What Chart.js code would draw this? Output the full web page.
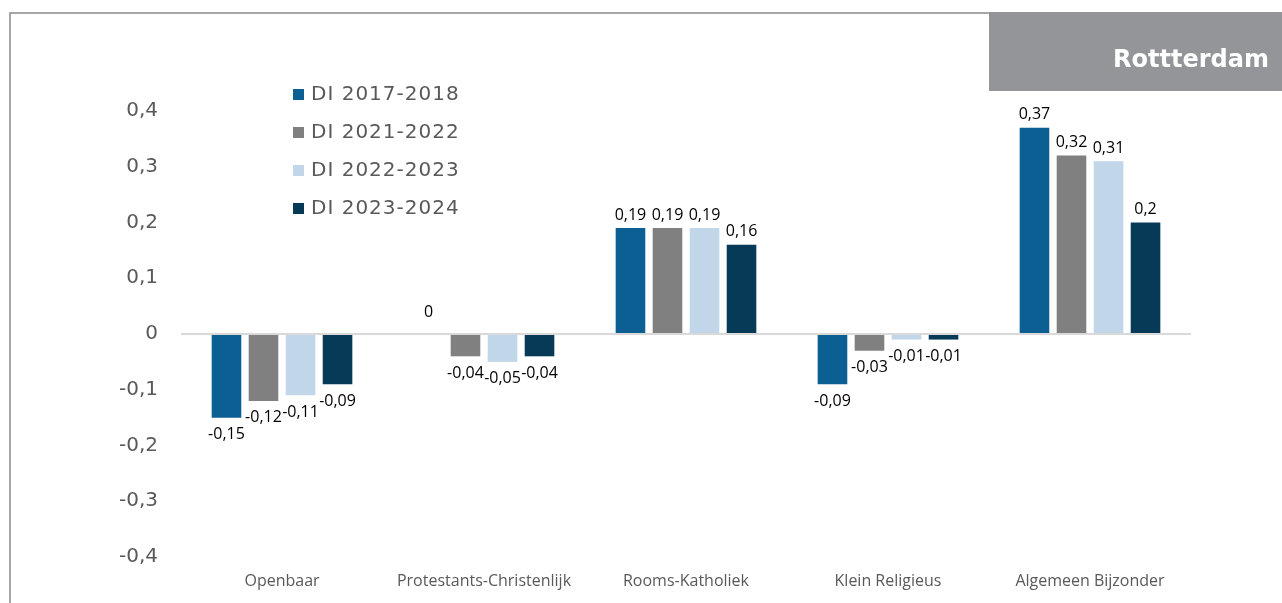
<!DOCTYPE html>
<html>
<head>
<meta charset="utf-8">
<script src="https://cdn.jsdelivr.net/npm/chart.js@4.4.0/dist/chart.umd.min.js"></script>
<style>
  html, body { margin: 0; padding: 0; background: #fff; }
  #wrap { position: relative; width: 1282px; height: 603px; }
</style>
</head>
<body>
<div id="wrap"><canvas id="chart" width="1282" height="603"></canvas></div>
<script>
// declare variables
const categories = ["Openbaar", "Protestants-Christenlijk", "Rooms-Katholiek", "Klein Religieus", "Algemeen Bijzonder"];
const seriesLabels = ["DI 2017-2018", "DI 2021-2022", "DI 2022-2023", "DI 2023-2024"];
const di2017 = [-0.15, 0, 0.19, -0.09, 0.37];
const di2021 = [-0.12, -0.04, 0.19, -0.03, 0.32];
const di2022 = [-0.11, -0.05, 0.19, -0.01, 0.31];
const di2023 = [-0.09, -0.04, 0.16, -0.01, 0.2];
const yTicks = [-0.4, -0.3, -0.2, -0.1, 0, 0.1, 0.2, 0.3, 0.4];
const colors = ["#0B5F93", "#808080", "#C2D6EA", "#063A57"];
const cityName = "Rottterdam";

function fmt(v) {
    if (v === 0) return "0";
    return String(Math.round(v * 100) / 100).replace(".", ",");
}

// frame + grey city box
const framePlugin = {
    id: 'frame',
    beforeDraw(chart) {
        const ctx = chart.ctx;
        ctx.save();
        ctx.strokeStyle = "#8a8a8a";
        ctx.lineWidth = 1.5;
        ctx.beginPath();
        ctx.moveTo(10, 603);
        ctx.lineTo(10, 13);
        ctx.lineTo(990, 13);
        ctx.stroke();
        ctx.fillStyle = "#939598";
        ctx.fillRect(989, 12, 293, 79);
        ctx.fillStyle = "#ffffff";
        ctx.font = "bold 24px 'DejaVu Sans'";
        ctx.textAlign = "right";
        ctx.textBaseline = "alphabetic";
        ctx.fillText(cityName, 1269, 67);
        ctx.restore();
    }
};

// legend drawn inside the plot
const legendPlugin = {
    id: 'innerLegend',
    afterDraw(chart) {
        const ctx = chart.ctx;
        ctx.save();
        ctx.font = "20px 'DejaVu Sans'";
        ctx.letterSpacing = "1px";
        ctx.textBaseline = "middle";
        ctx.textAlign = "left";
        chart.data.datasets.forEach((ds, i) => {
            const y = 94 + i * 38;
            ctx.fillStyle = ds.backgroundColor;
            ctx.fillRect(293, y - 5, 11, 11);
            ctx.fillStyle = "#595959";
            ctx.fillText(ds.label, 311, y + 1);
        });
        ctx.restore();
    }
};

// value labels on the bars
const labelPlugin = {
    id: 'barLabels',
    afterDatasetsDraw(chart) {
        const ctx = chart.ctx;
        ctx.save();
        ctx.font = "16px 'Open Sans'";
        ctx.fillStyle = "#000";
        ctx.textAlign = "center";
        ctx.textBaseline = "middle";
        chart.data.datasets.forEach((ds, i) => {
            const meta = chart.getDatasetMeta(i);
            meta.data.forEach((bar, j) => {
                const v = ds.data[j];
                let y;
                if (v > 0) y = bar.y - 13;
                else if (v === 0) y = bar.y - 22;
                else y = bar.y + 17;
                ctx.fillText(fmt(v), bar.x, y);
            });
        });
        ctx.restore();
    }
};

const allSeries = [di2017, di2021, di2022, di2023];

new Chart(document.getElementById("chart"), {
    type: 'bar',
    data: {
        labels: categories,
        datasets: allSeries.map((d, i) => ({
            label: seriesLabels[i],
            data: d,
            backgroundColor: colors[i],
            categoryPercentage: 0.733,
            barPercentage: 0.8
        }))
    },
    options: {
        responsive: false,
        animation: false,
        layout: { padding: { top: 111, right: 91, bottom: 0, left: 0 } },
        plugins: {
            legend: { display: false },
            tooltip: { enabled: false },
            title: { display: false }
        },
        scales: {
            x: {
                grid: { display: false, drawTicks: false },
                border: { display: false },
                ticks: {
                    padding: 15,
                    color: "#595959",
                    font: { family: "'Open Sans'", size: 16 }
                },
                afterFit(scale) { scale.height = 46; }
            },
            y: {
                min: -0.4,
                max: 0.4,
                afterBuildTicks(scale) { scale.ticks = yTicks.map(v => ({ value: v })); },
                border: { display: false },
                grid: {
                    drawTicks: false,
                    lineWidth: 2,
                    color: c => (c.tick && c.tick.value === 0) ? "#d9d9d9" : "rgba(0,0,0,0)"
                },
                ticks: {
                    padding: 23,
                    color: "#595959",
                    font: { family: "'DejaVu Sans'", size: 20 },
                    callback: v => fmt(v)
                },
                afterFit(scale) { scale.width = 181; }
            }
        }
    },
    plugins: [framePlugin, legendPlugin, labelPlugin]
});
</script>
</body>
</html>
